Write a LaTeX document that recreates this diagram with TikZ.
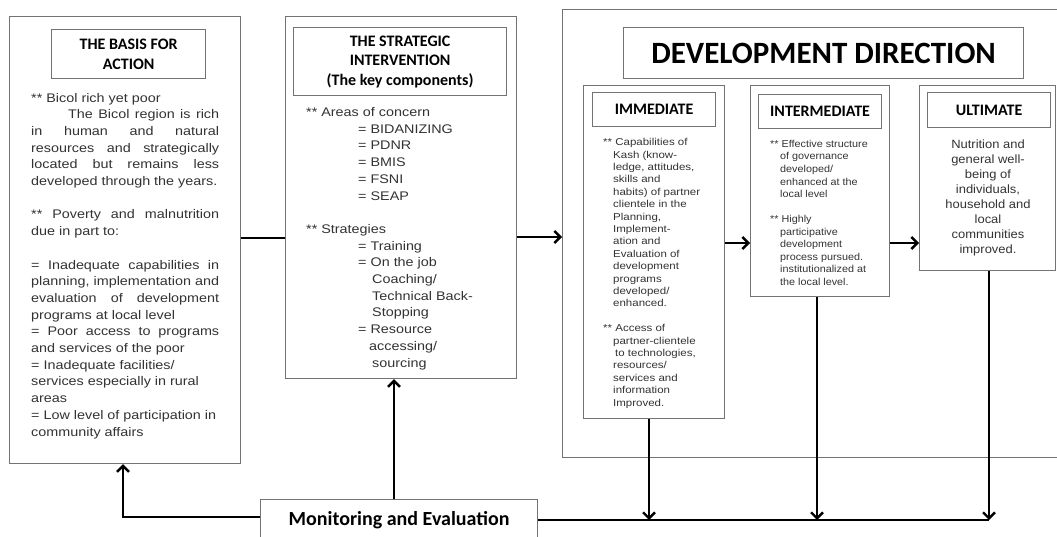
\documentclass[tikz,border=0pt]{standalone}
\usepackage{fontspec}
\usetikzlibrary{arrows.meta}
\newfontfamily\calb{Carlito}
\newfontfamily\bodyA[FakeStretch=1.15]{Liberation Sans}
\newfontfamily\bodyB[FakeStretch=1.15]{Liberation Sans}
\newfontfamily\bodyC[FakeStretch=1.08]{Liberation Sans}
\newfontfamily\bodyD[FakeStretch=1.08]{Liberation Sans}
\tikzset{
  box/.style={draw=black!55, line width=1.2pt, fill=white, inner sep=0pt, anchor=north west},
  title/.style={box, align=center, text=black},
  conn/.style={line width=2.4pt, black},
  arr/.style={conn, -{Straight Barb[length=6pt,width=12pt]}},
  txt/.style={anchor=base west, align=left, inner sep=0pt, text=black!80},
}
\begin{document}
\begin{tikzpicture}[x=1pt,y=-1pt]
\useasboundingbox (0,0) rectangle (1057,537);
% main boxes
\node[box, minimum width=231pt, minimum height=447pt] (basis) at (9,16) {};
\node[box, minimum width=231pt, minimum height=362pt] (strat) at (285,16) {};
\node[box, minimum width=510pt, minimum height=448pt] (dev) at (562,9) {};
\node[box, minimum width=141pt, minimum height=333pt] (imm) at (583,85) {};
\node[box, minimum width=139pt, minimum height=211pt] (inter) at (750,85) {};
\node[box, minimum width=136pt, minimum height=185pt] (ult) at (919,85) {};
% titles
\node[title, minimum width=154pt, minimum height=49pt, font={\calb\bfseries\fontsize{16}{20}\selectfont}] (basisT) at (51,29) {THE BASIS FOR\\ACTION};
\node[title, minimum width=213pt, minimum height=68pt, font={\calb\bfseries\fontsize{16}{19.5}\selectfont}] (stratT) at (293,27) {THE STRATEGIC\\INTERVENTION\\(The key components)};
\node[title, minimum width=400pt, minimum height=51pt, font={\calb\bfseries\fontsize{31}{36}\selectfont}] (devT) at (623,27) {DEVELOPMENT DIRECTION};
\node[title, minimum width=123pt, minimum height=34pt, font={\calb\bfseries\fontsize{16}{19}\selectfont}] (immT) at (592,92) {IMMEDIATE};
\node[title, minimum width=123pt, minimum height=34pt, font={\calb\bfseries\fontsize{16}{19}\selectfont}] (interT) at (758,94) {INTERMEDIATE};
\node[title, minimum width=123pt, minimum height=35pt, font={\calb\bfseries\fontsize{16}{19}\selectfont}] (ultT) at (927,92) {ULTIMATE};
\node[title, minimum width=277pt, minimum height=42pt, font={\calb\bfseries\fontsize{20}{24}\selectfont}] (me) at (260,499) {Monitoring and Evaluation};
% basis text
\node[txt, font={\bodyA\fontsize{12.5}{16.7}\selectfont}] (basisX) at (31,436) {%
** Bicol rich yet poor\\
\hspace*{37pt}\makebox[151pt][s]{The Bicol region is rich}\\
\makebox[188pt][s]{in human and natural}\\
\makebox[188pt][s]{resources and strategically}\\
\makebox[188pt][s]{located but remains less}\\
developed through the years.\\[16.7pt]
\makebox[188pt][s]{** Poverty and malnutrition}\\
due in part to:\\[16.7pt]
\makebox[188pt][s]{= Inadequate capabilities in}\\
\makebox[188pt][s]{planning, implementation and}\\
\makebox[188pt][s]{evaluation of development}\\
programs at local level\\
\makebox[188pt][s]{= Poor access to programs}\\
and services of the poor\\
= Inadequate facilities/\\
services especially in rural\\
areas\\
= Low level of participation in\\
community affairs};
% strategic text
\node[txt, font={\bodyA\fontsize{12.5}{16.7}\selectfont}] (stratX) at (306,367) {%
** Areas of concern\\
\hspace*{52pt}= BIDANIZING\\
\hspace*{52pt}= PDNR\\
\hspace*{52pt}= BMIS\\
\hspace*{52pt}= FSNI\\
\hspace*{52pt}= SEAP\\[16.7pt]
** Strategies\\
\hspace*{52pt}= Training\\
\hspace*{52pt}= On the job\\
\hspace*{66pt}Coaching/\\
\hspace*{66pt}Technical Back-\\
\hspace*{66pt}Stopping\\
\hspace*{52pt}= Resource\\
\hspace*{63pt}accessing/\\
\hspace*{66pt}sourcing};
% immediate text
\node[txt, font={\bodyB\fontsize{10}{12.4}\selectfont}] (immX) at (603,406) {%
** Capabilities of\\
\hspace*{10pt}Kash (know-\\
\hspace*{10pt}ledge, attitudes,\\
\hspace*{10pt}skills and\\
\hspace*{10pt}habits) of partner\\
\hspace*{10pt}clientele in the\\
\hspace*{10pt}Planning,\\
\hspace*{10pt}Implement-\\
\hspace*{10pt}ation and\\
\hspace*{10pt}Evaluation of\\
\hspace*{10pt}development\\
\hspace*{10pt}programs\\
\hspace*{10pt}developed/\\
\hspace*{10pt}enhanced.\\[12.4pt]
** Access of\\
\hspace*{10pt}partner-clientele\\
\hspace*{12pt}to technologies,\\
\hspace*{10pt}resources/\\
\hspace*{10pt}services and\\
\hspace*{10pt}information\\
\hspace*{10pt}Improved.};
% intermediate text
\node[txt, font={\bodyC\fontsize{10}{12.5}\selectfont}] (interX) at (770,285) {%
** Effective structure\\
\hspace*{10pt}of governance\\
\hspace*{10pt}developed/\\
\hspace*{10pt}enhanced at the\\
\hspace*{10pt}local level\\[12.5pt]
** Highly\\
\hspace*{10pt}participative\\
\hspace*{10pt}development\\
\hspace*{10pt}process pursued.\\
\hspace*{10pt}institutionalized at\\
\hspace*{10pt}the local level.};
% ultimate text
\node[txt, anchor=base, align=center, font={\bodyD\fontsize{12}{15}\selectfont}] (ultX) at (988,253.5) {%
Nutrition and\\general well-\\being of\\individuals,\\household and\\local\\communities\\improved.};
% connectors
\draw[conn] (basis.east |- 0,238) -- (strat.west |- 0,238);
\draw[arr] (strat.east |- 0,237) -- (dev.west |- 0,237);
\draw[arr] (imm.east |- 0,243) -- (inter.west |- 0,243);
\draw[arr] (inter.east |- 0,243) -- (ult.west |- 0,243);
\draw[arr] (me.west |- 0,517) -| (basis.south -| 123,0);
\draw[arr] (me.north -| 394,0) -- (strat.south -| 394,0);
\coordinate (mend) at (989,520);
\draw[conn] (me.east |- mend) -- (mend);
\draw[arr] (imm.south -| 649,0) -- (mend -| 649,0);
\draw[arr] (inter.south -| 817,0) -- (mend -| 817,0);
\draw[arr] (ult.south -| 989,0) -- (mend);
\end{tikzpicture}
\end{document}
